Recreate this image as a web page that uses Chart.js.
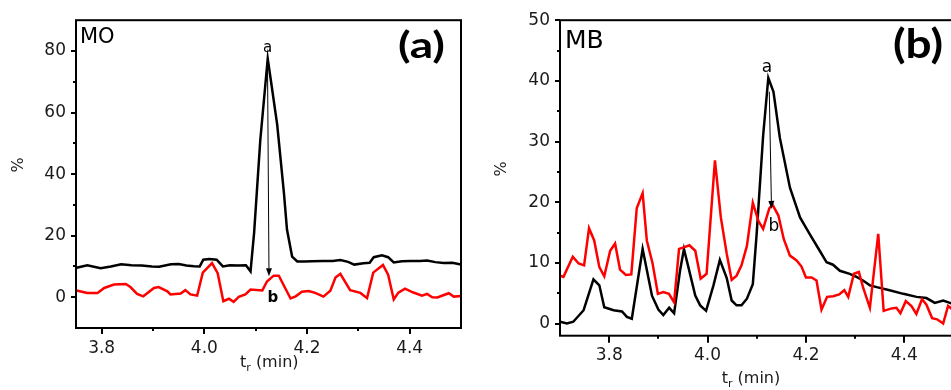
<!DOCTYPE html>
<html><head><meta charset="utf-8">
<script src="https://cdn.jsdelivr.net/npm/chart.js@4.4.1/dist/chart.umd.min.js"></script>
<style>
html,body{margin:0;padding:0;background:#fff;overflow:hidden;width:951px;height:390px;}
canvas{position:absolute;top:0;}
#c1{left:0px;} #c2{left:480px;}
</style></head><body>
<canvas id="c1" width="480" height="390"></canvas>
<canvas id="c2" width="490" height="390"></canvas>
<script>
// ---------- Panel (a): MO ----------
const moTimeBlack = [3.751,3.772,3.798,3.818,3.838,3.858,3.878,3.898,3.912,3.935,3.950,3.965,3.980,3.991,3.998,4.010,4.024,4.036,4.050,4.065,4.081,4.090,4.097,4.109,4.1235,4.130,4.142,4.155,4.161,4.171,4.181,4.195,4.210,4.230,4.250,4.265,4.280,4.292,4.310,4.322,4.330,4.346,4.358,4.369,4.385,4.401,4.420,4.434,4.450,4.466,4.483,4.500];
const moBlack     = [9.6,10.4,9.4,10.0,10.7,10.4,10.3,10.0,9.9,10.7,10.8,10.3,10.1,10.0,12.2,12.4,12.2,10.0,10.4,10.3,10.4,8.4,21,51,77.5,70,56,34,22,13.2,11.6,11.6,11.7,11.8,11.8,12.1,11.5,10.6,11.0,11.2,13.0,13.6,13.0,11.3,11.7,11.8,11.8,11.9,11.4,11.1,11.2,10.6];
const moTimeRed = [3.751,3.772,3.792,3.805,3.824,3.847,3.856,3.869,3.881,3.902,3.911,3.928,3.934,3.954,3.963,3.973,3.986,3.997,4.015,4.026,4.037,4.048,4.057,4.067,4.080,4.090,4.113,4.122,4.135,4.145,4.168,4.178,4.190,4.203,4.216,4.232,4.2455,4.2555,4.265,4.284,4.304,4.317,4.329,4.348,4.358,4.369,4.378,4.391,4.406,4.424,4.434,4.444,4.454,4.476,4.486,4.500];
const moRed     = [2.2,1.4,1.4,3.0,4.1,4.3,3.3,1.1,0.3,3.0,3.3,1.9,0.9,1.2,2.3,0.9,0.5,8.0,11.1,7.8,-1.3,-0.5,-1.5,0.1,0.9,2.5,2.2,5.1,7.0,7.0,-0.4,0.3,1.8,2.0,1.4,0.2,2.1,6.4,7.6,2.3,1.4,-0.3,8.0,10.5,7.3,-0.7,1.5,2.8,1.6,0.5,1.1,0.0,-0.1,1.3,0.2,0.4];
const moXTicks = [3.8, 4.0, 4.2, 4.4];
const moXMinor = [3.9, 4.1, 4.3];
const moYTicks = [0, 20, 40, 60, 80];
const moYMinor = [10, 30, 50, 70];
// arrow a -> b (time, %)
const moArrow = [[4.123, 77.4], [4.126, 6.8]];

// ---------- Panel (b): MB ----------
const mbTimeBlack = [3.700,3.714,3.727,3.748,3.768,3.780,3.790,3.809,3.826,3.836,3.846,3.868,3.887,3.900,3.910,3.922,3.932,3.944,3.952,3.961,3.975,3.985,3.997,4.012,4.025,4.039,4.049,4.059,4.069,4.080,4.092,4.100,4.113,4.1235,4.134,4.147,4.1675,4.188,4.200,4.208,4.228,4.242,4.255,4.269,4.289,4.300,4.316,4.330,4.344,4.370,4.398,4.425,4.445,4.462,4.479,4.500];
const mbBlack     = [0.3,0.0,0.3,2.2,7.3,6.3,2.7,2.2,2.0,1.1,0.8,12.3,4.6,2.3,1.4,2.6,1.7,8.7,12.3,9.3,4.6,3.0,2.1,6.3,10.5,7.5,3.8,3.0,3.0,4.1,6.5,15,31,40.5,38.2,30.6,22.4,17.5,15.8,14.7,12.0,10.1,9.7,8.7,8.2,7.8,7.1,6.3,6.0,5.5,4.9,4.4,4.2,3.4,3.8,3.2];
const mbTimeRed = [3.7005,3.707,3.726,3.738,3.749,3.759,3.7695,3.780,3.790,3.802,3.812,3.822,3.834,3.845,3.856,3.868,3.8765,3.888,3.899,3.910,3.9215,3.932,3.942,3.953,3.963,3.975,3.986,3.998,4.015,4.027,4.039,4.049,4.059,4.069,4.080,4.092,4.1035,4.113,4.1255,4.132,4.144,4.155,4.1675,4.181,4.191,4.200,4.2115,4.2215,4.2317,4.243,4.2555,4.2676,4.278,4.286,4.2975,4.3076,4.316,4.330,4.347,4.358,4.374,4.384,4.392,4.403,4.4145,4.4245,4.436,4.445,4.4565,4.4666,4.479,4.489,4.500];
const mbRed     = [7.9,7.7,11.0,9.9,9.6,15.7,13.7,9.3,7.8,12.0,13.2,8.9,8.0,8.1,19.0,21.5,13.7,10.0,4.9,5.2,4.9,3.5,12.3,12.6,12.9,12.0,7.4,8.2,26.9,17.5,11.5,7.2,7.9,9.6,12.8,19.9,16.9,15.6,19.0,19.6,17.8,13.9,11.2,10.4,9.4,7.6,7.6,7.1,2.3,4.4,4.5,4.8,5.5,4.4,8.2,8.5,6.0,2.6,14.8,2.1,2.5,2.6,1.7,3.7,2.9,1.6,4.0,3.1,0.9,0.7,0.0,2.9,2.2];
const mbXTicks = [3.8, 4.0, 4.2, 4.4];
const mbXMinor = [3.9, 4.1, 4.3];
const mbYTicks = [0, 10, 20, 30, 40, 50];
const mbYMinor = [5, 15, 25, 35, 45];
const mbArrow = [[4.1255, 38.2], [4.130, 18.9]];

const zip = (t, v) => t.map((x, i) => ({x: x, y: v[i]}));
const FONT = 'DejaVu Sans';

function drawFit(ctx, text, x, y, font, width, align) {
  ctx.save();
  ctx.font = font;
  ctx.textBaseline = 'alphabetic';
  ctx.textAlign = 'left';
  const w = ctx.measureText(text).width;
  const s = width ? width / w : 1;
  const x0 = align === 'center' ? x - w * s / 2 : x;
  ctx.translate(x0, y);
  ctx.scale(s, 1);
  ctx.fillText(text, 0, 0);
  ctx.restore();
}

function decor(p) {
  return {
    id: 'decor',
    afterDatasetsDraw(chart) {
      const ctx = chart.ctx, a = chart.chartArea;
      const xs = chart.scales.x, ys = chart.scales.y;
      ctx.save();
      ctx.fillStyle = '#000';
      ctx.strokeStyle = '#000';
      // arrow
      const x1 = xs.getPixelForValue(p.arrow[0][0]), y1 = ys.getPixelForValue(p.arrow[0][1]);
      const x2 = xs.getPixelForValue(p.arrow[1][0]), y2 = ys.getPixelForValue(p.arrow[1][1]);
      const ang = Math.atan2(y2 - y1, x2 - x1);
      const hl = 8, hw = 3;
      const bx = x2 - hl * Math.cos(ang), by = y2 - hl * Math.sin(ang);
      ctx.lineWidth = 1;
      ctx.beginPath(); ctx.moveTo(x1, y1); ctx.lineTo(bx, by); ctx.stroke();
      ctx.beginPath();
      ctx.moveTo(x2, y2);
      ctx.lineTo(bx + hw * Math.sin(ang), by - hw * Math.cos(ang));
      ctx.lineTo(bx - hw * Math.sin(ang), by + hw * Math.cos(ang));
      ctx.closePath(); ctx.fill();
      // frame
      ctx.lineWidth = 2;
      ctx.strokeRect(a.left, a.top, a.right - a.left, a.bottom - a.top);
      // ticks
      ctx.lineWidth = 2;
      const xt = (vals, len) => vals.forEach(v => {
        const px = Math.round(xs.getPixelForValue(v));
        ctx.beginPath(); ctx.moveTo(px, a.bottom); ctx.lineTo(px, a.bottom + len); ctx.stroke();
      });
      const yt = (vals, len) => vals.forEach(v => {
        const py = Math.round(ys.getPixelForValue(v));
        ctx.beginPath(); ctx.moveTo(a.left, py); ctx.lineTo(a.left - len, py); ctx.stroke();
      });
      xt(p.xTicks, p.majLen); xt(p.xMinor, 3);
      yt(p.yTicks, 5); yt(p.yMinor, 3);
      // texts
      ctx.fillStyle = '#000';
      const t = p.txt;
      drawFit(ctx, t.name, t.nameX, t.nameY, t.nameFont, 0, 'left');
      drawFit(ctx, t.tag, t.tagX, t.tagY, 'bold ' + t.tagSize + 'px Lato', t.tagW, 'left');
      drawFit(ctx, 'a', xs.getPixelForValue(t.aPos[0]), ys.getPixelForValue(t.aPos[1]), t.aFont, 0, 'center');
      drawFit(ctx, 'b', xs.getPixelForValue(t.bPos[0]), ys.getPixelForValue(t.bPos[1]), t.bFont, 0, 'center');
      // y title %
      ctx.save();
      ctx.translate(t.pctX, t.pctY);
      ctx.rotate(-Math.PI / 2);
      ctx.font = '16px ' + FONT;
      ctx.textAlign = 'center'; ctx.textBaseline = 'middle';
      ctx.fillStyle = '#1a1a1a';
      ctx.fillText('%', 0, 0);
      ctx.restore();
      // x title t_r (min)
      ctx.fillStyle = '#1a1a1a';
      ctx.textAlign = 'left'; ctx.textBaseline = 'alphabetic';
      ctx.font = '16px ' + FONT;
      let cx = t.xtX;
      ctx.fillText('t', cx, t.xtY); cx += ctx.measureText('t').width;
      ctx.font = '11px ' + FONT;
      ctx.fillText('r', cx, t.xtY + 4); cx += ctx.measureText('r').width;
      ctx.font = '16px ' + FONT;
      ctx.fillText(' (min)', cx, t.xtY);
      ctx.restore();
    }
  };
}

function makePanel(id, p) {
  new Chart(document.getElementById(id), {
    type: 'line',
    data: { datasets: [
      { data: zip(p.redT, p.red), borderColor: '#ff0000', borderWidth: 2.5, pointRadius: 0, tension: 0, fill: false },
      { data: zip(p.blackT, p.black), borderColor: '#000000', borderWidth: 2.5, pointRadius: 0, tension: 0, fill: false }
    ]},
    options: {
      responsive: false, animation: false, devicePixelRatio: 1,
      layout: { padding: p.pad },
      plugins: { legend: { display: false }, tooltip: { enabled: false } },
      scales: {
        x: {
          type: 'linear', min: p.xMin, max: p.xMax,
          grid: { display: false, drawTicks: false }, border: { display: false },
          afterBuildTicks: s => { s.ticks = p.xTicks.map(v => ({ value: v })); },
          afterFit: s => { s.height = p.xH; },
          ticks: { padding: p.xPad, color: '#1a1a1a', font: { family: FONT, size: 17 }, maxRotation: 0, autoSkip: false,
                   callback: v => Number(v).toFixed(1) }
        },
        y: {
          type: 'linear', min: p.yMin, max: p.yMax,
          grid: { display: false, drawTicks: false }, border: { display: false },
          afterBuildTicks: s => { s.ticks = p.yTicks.map(v => ({ value: v })); },
          afterFit: s => { s.width = p.yW; },
          ticks: { padding: p.yPad, color: '#1a1a1a', font: { family: FONT, size: 17 }, autoSkip: false,
                   callback: v => String(v) }
        }
      }
    },
    plugins: [decor(p)]
  });
}

makePanel('c1', {
  blackT: moTimeBlack, black: moBlack, redT: moTimeRed, red: moRed,
  xMin: 3.75, xMax: 4.5, yMin: -10, yMax: 90,
  xTicks: moXTicks, xMinor: moXMinor, yTicks: moYTicks, yMinor: moYMinor,
  pad: { left: 0, top: 16, right: 19, bottom: 0 }, xH: 62, yW: 76, xPad: 10, yPad: 10, majLen: 6,
  arrow: moArrow,
  txt: { name: 'MO', nameX: 80, nameY: 43, nameFont: '21px ' + FONT,
         tag: '(a)', tagX: 398, tagY: 58, tagSize: 36, tagW: 47,
         aPos: [4.123, 79.6], aFont: '15px ' + FONT,
         bPos: [4.1336, -1.4], bFont: 'bold 15px ' + FONT,
         pctX: 18.5, pctY: 165, xtX: 240, xtY: 367 }
});

makePanel('c2', {
  blackT: mbTimeBlack, black: mbBlack, redT: mbTimeRed, red: mbRed,
  xMin: 3.7, xMax: 4.5, yMin: -2, yMax: 50,
  xTicks: mbXTicks, xMinor: mbXMinor, yTicks: mbYTicks, yMinor: mbYMinor,
  pad: { left: 0, top: 18.3, right: 16.5, bottom: 0 }, xH: 54.3, yW: 80, xPad: 10, yPad: 10, majLen: 7,
  arrow: mbArrow,
  txt: { name: 'MB', nameX: 85, nameY: 48, nameFont: '25px ' + FONT,
         tag: '(b)', tagX: 413, tagY: 58.3, tagSize: 40, tagW: 50,
         aPos: [4.1208, 41.4], aFont: '17px ' + FONT,
         bPos: [4.135, 15.3], bFont: '17px ' + FONT,
         pctX: 21.5, pctY: 169, xtX: 241.7, xtY: 383 }
});
</script>
</body></html>
